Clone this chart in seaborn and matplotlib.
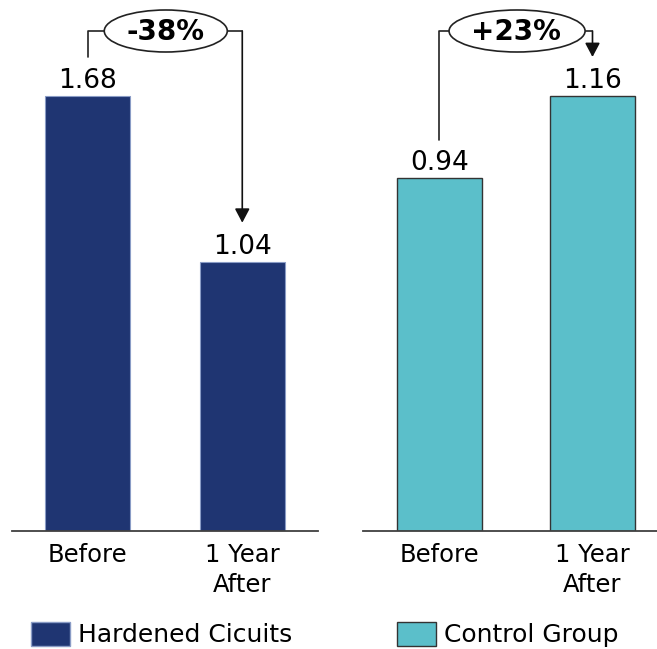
import matplotlib
matplotlib.use("Agg")
import matplotlib.pyplot as plt
import seaborn as sns
import pandas as pd
from matplotlib.patches import Ellipse, Patch

# ---- data ----
periods = ["Before", "1 Year\nAfter"]
hardened_values = [1.68, 1.04]
control_values = [0.94, 1.16]
group_names = ["Hardened Cicuits", "Control Group"]
change_labels = ["-38%", "+23%"]

sns.set_theme(style="white")
plt.rcParams["font.family"] = ["DejaVu Sans"]
plt.rcParams["text.color"] = "black"
plt.rcParams["xtick.color"] = "black"

W, H = 657, 649
fig = plt.figure(figsize=(W / 100, H / 100), dpi=100)

AX_TOP, AX_BOT = 20, 531
AX_H = AX_BOT - AX_TOP
BAR_TOP_FRAC = 435 / AX_H

navy = "#1F3572"
teal = "#5BBFCA"

panels = [
    dict(vals=hardened_values, x0=12, x1=318, xlim=(-0.49, 1.49), width=0.55,
         color=navy, edge="#8A9CC6", lw=0.8, label=change_labels[0], ell_w=0.796, ell_x=0.505),
    dict(vals=control_values, x0=363, x1=657, xlim=(-0.5, 1.4216), width=0.556,
         color=teal, edge="#333333", lw=1.0, label=change_labels[1], ell_w=0.889, ell_x=0.507),
]

for p in panels:
    ax = fig.add_axes([p["x0"] / W, (H - AX_BOT) / H, (p["x1"] - p["x0"]) / W, AX_H / H])
    vals = p["vals"]
    df = pd.DataFrame({"period": periods, "value": vals})
    sns.barplot(data=df, x="period", y="value", ax=ax, color=p["color"], saturation=1,
                width=p["width"], edgecolor=p["edge"], linewidth=p["lw"])
    ymax = max(vals) / BAR_TOP_FRAC
    ax.set_ylim(0, ymax)
    ax.set_xlim(*p["xlim"])
    for s in ["top", "right", "left"]:
        ax.spines[s].set_visible(False)
    ax.spines["bottom"].set_color("#404040")
    ax.spines["bottom"].set_linewidth(1.3)
    ax.set_yticks([])
    ax.set_xlabel("")
    ax.set_ylabel("")
    ax.tick_params(axis="x", length=0, pad=9, labelsize=17.5, labelcolor="black")
    for lbl in ax.get_xticklabels():
        lbl.set_linespacing(1.28)
    ax.bar_label(ax.containers[0], labels=[f"{v:.2f}" for v in vals], padding=1.5,
                 fontsize=19, color="black")

    tr = ax.get_xaxis_transform()
    level = (AX_BOT - 31) / AX_H
    off = 39 / AX_H
    y0 = vals[0] / ymax + off
    y1 = vals[1] / ymax + off
    ax.plot([0, 0, 1], [y0, level, level], transform=tr, color="#222222", lw=1.2,
            clip_on=False, zorder=4)
    ax.annotate("", xy=(1, y1), xycoords=tr, xytext=(1, level), textcoords=tr,
                arrowprops=dict(arrowstyle="-|>,head_length=0.85,head_width=0.45",
                                mutation_scale=10, color="#111111", lw=1.2,
                                shrinkA=0, shrinkB=0),
                annotation_clip=False)
    ell = Ellipse((p["ell_x"], level), p["ell_w"], 42 / AX_H, transform=tr,
                  facecolor="white", edgecolor="#222222", lw=1.2, zorder=5, clip_on=False)
    ax.add_patch(ell)
    ax.text(0.5, (AX_BOT - 39.5) / AX_H, p["label"], transform=tr, ha="center",
            va="baseline", fontsize=20, fontweight="bold", zorder=6, clip_on=False)

handles = [
    Patch(facecolor=navy, edgecolor="#8A9CC6", linewidth=1.0),
    Patch(facecolor=teal, edgecolor="#333333", linewidth=1.0),
]
for h, name, x in zip(handles, group_names, [31, 397]):
    fig.legend(handles=[h], labels=[name], loc="center left",
               bbox_to_anchor=(x / W, (H - 634.5) / H), frameon=False, fontsize=18,
               handlelength=1.56, handleheight=1.08, handletextpad=0.32,
               borderpad=0, borderaxespad=0)

fig.savefig("out.png", dpi=100)
